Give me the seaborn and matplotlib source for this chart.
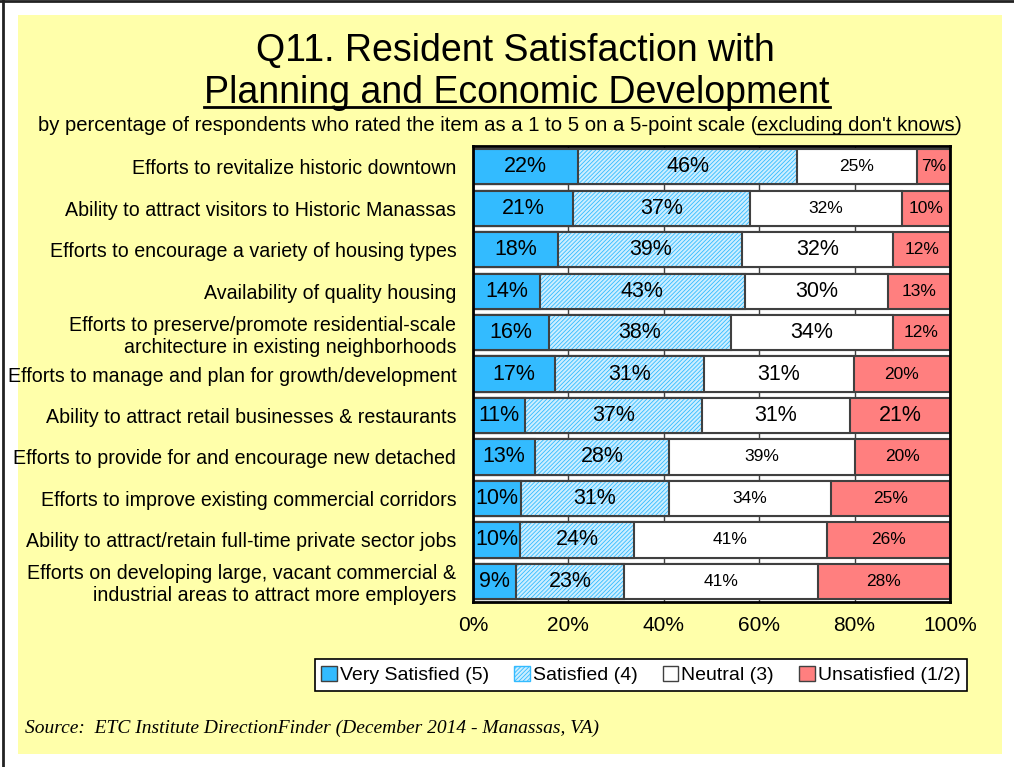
import pandas as pd
import matplotlib.pyplot as plt
import seaborn as sns
from matplotlib.patches import Patch, Rectangle
from matplotlib.lines import Line2D

# datos
categorias = [
    "Efforts to revitalize historic downtown",
    "Ability to attract visitors to Historic Manassas",
    "Efforts to encourage a variety of housing types",
    "Availability of quality housing",
    "Efforts to preserve/promote residential-scale\narchitecture in existing neighborhoods",
    "Efforts to manage and plan for growth/development",
    "Ability to attract retail businesses & restaurants",
    "Efforts to provide for and encourage new detached",
    "Efforts to improve existing commercial corridors",
    "Ability to attract/retain full-time private sector jobs",
    "Efforts on developing large, vacant commercial &\nindustrial areas to attract more employers",
]
muy_satisfecho = [22, 21, 18, 14, 16, 17, 11, 13, 10, 10, 9]
satisfecho = [46, 37, 39, 43, 38, 31, 37, 28, 31, 24, 23]
neutral = [25, 32, 32, 30, 34, 31, 31, 39, 34, 41, 41]
insatisfecho = [7, 10, 12, 13, 12, 20, 21, 20, 25, 26, 28]
series = ["Very Satisfied (5)", "Satisfied (4)", "Neutral (3)", "Unsatisfied (1/2)"]
ticks_x = [0, 20, 40, 60, 80, 100]

plt.rcParams['font.family'] = 'Liberation Sans'

azul = "#33BBFF"
azul_claro = "#CDEEFF"
rojo = "#FF7F7F"
borde = "#404040"
trama = "////////"
plt.rcParams['hatch.linewidth'] = 0.6

datos = pd.DataFrame({"categoria": categorias, "vs": muy_satisfecho, "s": satisfecho,
                      "n": neutral, "u": insatisfecho})
cols = ["vs", "s", "n", "u"]
tabla = datos[cols]
#posiciones acumuladas normalizadas a 100
acum = tabla.cumsum(axis=1).div(tabla.sum(axis=1), axis=0) * 100

fig = plt.figure(figsize=(10.14, 7.67), dpi=100)
fig.patch.set_facecolor("white")
fig.add_artist(Rectangle((0.0178, 0.017), 0.9704, 0.963, transform=fig.transFigure,
                         facecolor="#FFFFAA", edgecolor="none", zorder=-5))
fig.add_artist(Line2D([0, 1], [0.999, 0.999], color="#222222", lw=2, transform=fig.transFigure))
fig.add_artist(Line2D([0.003, 0.003], [0, 1], color="#222222", lw=2, transform=fig.transFigure))

ax = fig.add_axes([0.4665, 0.215, 0.4704, 0.5946])
ax.set_facecolor("white")

#barras apiladas dibujando acumulados de mayor a menor
kw = dict(y=datos["categoria"], orient="h", width=0.85, saturation=1, ax=ax)
sns.barplot(x=acum["u"], color=rojo, edgecolor=borde, linewidth=1.5, **kw)
sns.barplot(x=acum["n"], color="white", edgecolor=borde, linewidth=1.5, **kw)
sns.barplot(x=acum["s"], color=azul_claro, edgecolor=azul, linewidth=0, hatch=trama, **kw)
sns.barplot(x=acum["s"], color=borde, fill=False, linewidth=1.5, **kw)
sns.barplot(x=acum["vs"], color=azul, edgecolor=borde, linewidth=1.5, **kw)

#etiquetas de porcentaje (algunas mas pequeñas como en el original)
pequenos = {(0, 2), (0, 3), (1, 2), (1, 3), (2, 3), (3, 3), (4, 3), (5, 3),
            (7, 2), (7, 3), (8, 2), (8, 3), (9, 2), (9, 3), (10, 2), (10, 3)}
for i in range(len(categorias)):
    izq = 0
    for j, c in enumerate(cols):
        der = acum[c][i]
        tam = 12.5 if (i, j) in pequenos else 15.5
        ax.text((izq + der) / 2, i, f"{tabla[c][i]}%", ha="center", va="center", fontsize=tam)
        izq = der

ax.set_xlim(0, 100)
ax.set_xticks(ticks_x)
ax.set_xticklabels([f"{t}%" for t in ticks_x])
ax.set_xlabel("")
ax.set_ylabel("")
ax.grid(axis="x", color="#404040", lw=1)
ax.set_axisbelow(True)
ax.tick_params(axis="x", length=0, labelsize=15, pad=10)
ax.tick_params(axis="y", length=0, labelsize=14.1, pad=12)
for s in ax.spines.values():
    s.set_visible(True)
    s.set_color("black")
    s.set_linewidth(2)

#leyenda
manejadores = [Patch(facecolor=azul, edgecolor=borde),
               Patch(facecolor=azul_claro, edgecolor=azul, hatch=trama),
               Patch(facecolor="white", edgecolor=borde),
               Patch(facecolor=rojo, edgecolor=borde)]
ley = fig.legend(manejadores, series, loc="center", bbox_to_anchor=(0.632, 0.12), ncol=4,
                 fontsize=14, frameon=True, fancybox=False, edgecolor="black", framealpha=1,
                 handlelength=0.8, handleheight=0.8, handletextpad=0.15, columnspacing=1.3,
                 borderpad=0.35, borderaxespad=0)
ley.get_frame().set_linewidth(1.2)

#titulos
fig.text(0.508, 0.920, "Q11. Resident Satisfaction with", ha="center", va="baseline", fontsize=27)
t2 = fig.text(0.51, 0.866, "Planning and Economic Development", ha="center", va="baseline", fontsize=27)
partes = ["by percentage of respondents who rated the item as a 1 to 5 on a 5-point scale (",
          "excluding don't knows", ")"]
objs = [fig.text(0, 0.829, p, fontsize=14.6, va="baseline") for p in partes]
fig.text(0.025, 0.045, "Source:  ETC Institute DirectionFinder (December 2014 - Manassas, VA)",
         family="Liberation Serif", style="italic", fontsize=14, va="baseline")

fig.canvas.draw()
r = fig.canvas.get_renderer()
anchos = [o.get_window_extent(r).width / fig.bbox.width for o in objs]
x = 0.493 - sum(anchos) / 2
for o, a in zip(objs, anchos):
    o.set_x(x)
    x += a
fig.canvas.draw()


def subrayar(t, grosor, baja):
    bb = t.get_window_extent(r).transformed(fig.transFigure.inverted())
    y = t.get_position()[1] - baja / fig.bbox.height
    fig.add_artist(Line2D([bb.x0, bb.x1], [y, y], color="black", lw=grosor,
                          transform=fig.transFigure))


subrayar(t2, 2, 4)
subrayar(objs[1], 1, 3)

fig.savefig("out.png", dpi=100)
